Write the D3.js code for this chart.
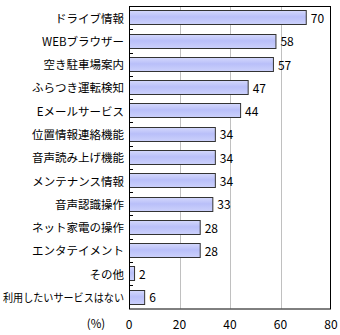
<!DOCTYPE html>
<html>
<head>
<meta charset="utf-8">
<script src="https://cdn.jsdelivr.net/npm/d3@7/dist/d3.min.js"></script>
<style>
  html, body { margin: 0; padding: 0; background: #fff; }
  svg { display: block; }
  text { font-family: "Noto Sans CJK JP", "Noto Sans", sans-serif; fill: #000; }
</style>
</head>
<body>
<svg id="chart" width="340" height="335"></svg>
<script>
// Services and the share of respondents who want each one (%)
const categories = [
  "ドライブ情報", "WEBブラウザー", "空き駐車場案内", "ふらつき運転検知",
  "Eメールサービス", "位置情報連絡機能", "音声読み上げ機能", "メンテナンス情報",
  "音声認識操作", "ネット家電の操作", "エンタテイメント", "その他", "利用したいサービスはない"
];
const values = [70, 58, 57, 47, 44, 34, 34, 34, 33, 28, 28, 2, 6];
const xTicks = [0, 20, 40, 60, 80];
const unitLabel = "(%)";

const svg = d3.select("#chart");
const m = { left: 129, right: 331, top: 6, bottom: 308.5 };

const x = d3.scaleLinear().domain([0, 80]).range([m.left, m.right]);
const y = d3.scaleBand().domain(categories).range([m.top, m.bottom])
  .paddingInner(0.38).paddingOuter(0.19);

// vertical gradient for the bars
const grad = svg.append("defs").append("linearGradient")
  .attr("id", "barFill").attr("x1", 0).attr("y1", 0).attr("x2", 0).attr("y2", 1);
grad.append("stop").attr("offset", "0%").attr("stop-color", "#d4d8fc");
grad.append("stop").attr("offset", "45%").attr("stop-color", "#b9bff9");
grad.append("stop").attr("offset", "100%").attr("stop-color", "#ccd1fb");

// grid lines
svg.append("g").selectAll("line")
  .data(xTicks.filter(t => t > 0 && t < 80))
  .join("line")
  .attr("x1", d => Math.round(x(d)) + 0.5).attr("x2", d => Math.round(x(d)) + 0.5)
  .attr("y1", m.top).attr("y2", m.bottom)
  .attr("stroke", "#c0c0c0").attr("stroke-width", 1);

// bars
svg.append("g").selectAll("rect")
  .data(values)
  .join("rect")
  .attr("x", x(0) + 0.5)
  .attr("y", (d, i) => Math.round(y(categories[i])) + 0.5)
  .attr("width", d => x(d) - x(0))
  .attr("height", Math.round(y.bandwidth()))
  .attr("fill", "url(#barFill)")
  .attr("stroke", "#333")
  .attr("stroke-width", 1);

// value labels
svg.append("g").selectAll("text")
  .data(values)
  .join("text")
  .attr("x", d => x(d) + 5)
  .attr("y", (d, i) => y(categories[i]) + y.bandwidth() / 2)
  .attr("dominant-baseline", "central")
  .attr("font-size", 12)
  .text(d => d);

// frame
svg.append("rect")
  .attr("x", m.left + 0.5).attr("y", m.top + 0.5)
  .attr("width", m.right - m.left - 1).attr("height", m.bottom - m.top)
  .attr("fill", "none").attr("stroke", "#000").attr("stroke-width", 1);

// category axis: labels and small inner ticks between bands
const step = y.step();
svg.append("g").selectAll("line")
  .data(categories.slice(1))
  .join("line")
  .attr("x1", m.left).attr("x2", m.left + 4)
  .attr("y1", d => Math.round(y(d) - step * y.paddingInner() / 2) + 0.5)
  .attr("y2", d => Math.round(y(d) - step * y.paddingInner() / 2) + 0.5)
  .attr("stroke", "#000");

const maxLabelWidth = m.left - 8;
svg.append("g").selectAll("text")
  .data(categories)
  .join("text")
  .attr("x", m.left - 5)
  .attr("y", d => y(d) + y.bandwidth() / 2)
  .attr("text-anchor", "end")
  .attr("dominant-baseline", "central")
  .attr("font-size", 11.5)
  .text(d => d)
  .each(function () {
    // squeeze labels that would run past the left edge
    if (this.getComputedTextLength() > maxLabelWidth) {
      d3.select(this).attr("textLength", maxLabelWidth)
        .attr("lengthAdjust", "spacingAndGlyphs");
    }
  });

// value axis labels
svg.append("g").selectAll("text")
  .data(xTicks)
  .join("text")
  .attr("x", d => x(d))
  .attr("y", 323)
  .attr("text-anchor", "middle")
  .attr("dominant-baseline", "central")
  .attr("font-size", 12)
  .text(d => d);

svg.append("text")
  .attr("x", 96).attr("y", 323)
  .attr("text-anchor", "middle")
  .attr("dominant-baseline", "central")
  .attr("font-size", 11.5)
  .text(unitLabel);
</script>
</body>
</html>
